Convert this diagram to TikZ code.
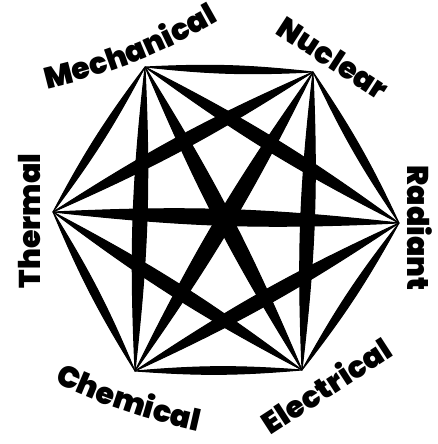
\documentclass[tikz,border=0pt]{standalone}
\usepackage{fontspec}
\usepackage{tikz}
\usetikzlibrary{decorations.text}
\IfFontExistsTF{Poppins-Black}
  {\newfontfamily\labfont{Poppins-Black}}
  {\IfFontExistsTF{Poppins-ExtraBold}
    {\newfontfamily\labfont{Poppins-ExtraBold}}
    {\newfontfamily\labfont{Poppins}[UprightFont=*-Bold, FakeBold=2]}}

% one tapered stroke between two corners
\newcommand{\tedge}[2]{\fill[edge] (#1) to[bend left=4.5] (#2) to[bend left=4.5] (#1);}

\begin{document}
\begin{tikzpicture}[
    x=1pt, y=1pt,
    edge/.style={fill=black, draw=black, line width=1pt, line join=round},
    lab/.style={font=\labfont\fontsize{30}{30}\selectfont, inner sep=0pt}
]
    \useasboundingbox (0,0) rectangle (438,444);

    % corners
    \coordinate (mech) at (145,377);
    \coordinate (nucl) at (313,372);
    \coordinate (rad) at (399,221);
    \coordinate (elec) at (302,74);
    \coordinate (chem) at (135,73);
    \coordinate (therm) at (53,232);

    % every pair joined
    \foreach \a/\b in {mech/nucl, nucl/rad, rad/elec, elec/chem, chem/therm, therm/mech,
                       mech/rad, mech/elec, mech/chem, nucl/elec, nucl/chem, nucl/therm,
                       rad/chem, rad/therm, elec/therm}
        {\tedge{\a}{\b}}

    % labels
    \node[lab, rotate=90] (thermlab) at (30,223) {Thermal};
    \node[lab, rotate=-90] (radlab) at (420,216) {Radiant};
    \node[lab, rotate=-33] (nucllab) at (333,386) {Nuclear};
    \node[lab, rotate=33] (eleclab) at (326,59) {Electrical};
    \path[decorate, decoration={text along path, text align=center,
        text={|\labfont\fontsize{30}{30}\selectfont|Mechanical}}]
        (47,355) to[bend right=8] (219,423);
    \path[decorate, decoration={text along path, text align=center,
        text={|\labfont\fontsize{30}{30}\selectfont|Chemical}}]
        (55,61) to[bend right=6] (197,13);
\end{tikzpicture}
\end{document}
